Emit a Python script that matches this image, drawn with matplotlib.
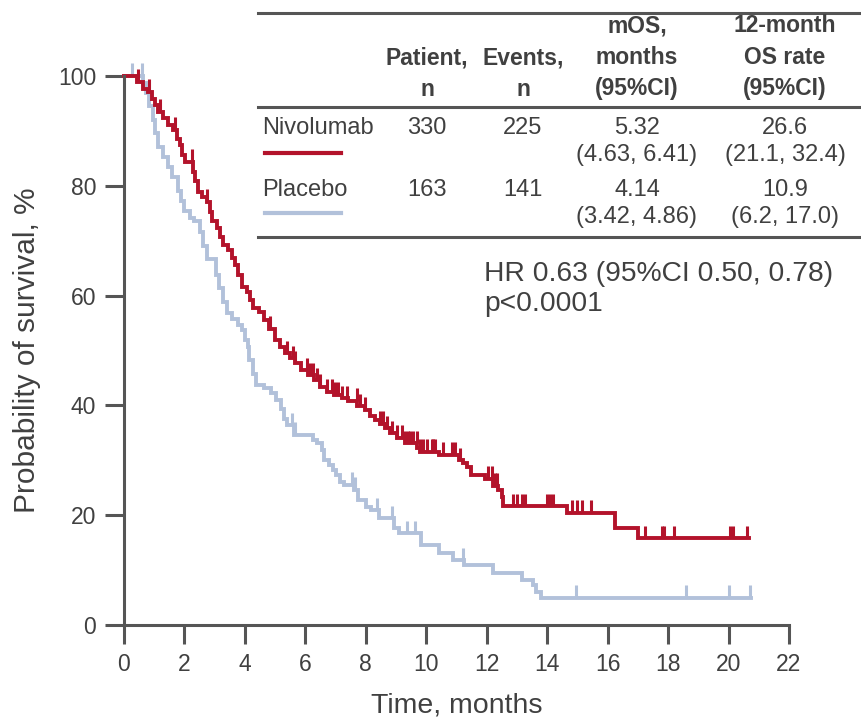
import numpy as np
import matplotlib
matplotlib.use('Agg')
import matplotlib.pyplot as plt
from matplotlib.lines import Line2D

plt.rcParams['font.family'] = ['Liberation Sans', 'DejaVu Sans']

W, H = 862, 725
RED = '#B3132B'
BLUE = '#B2C1DA'
GREY = '#555555'
TXT = '#404040'

# Kaplan-Meier steps: time (months) and survival (%) after each event
niv_t = [0, 0.42, 0.64, 0.78, 0.92, 1.03, 1.13, 1.30, 1.47, 1.63, 1.74, 1.85, 1.91, 2.02,
         2.29, 2.35, 2.46, 2.57, 2.73, 2.84, 2.90, 3.07, 3.18, 3.28, 3.45, 3.56, 3.67, 3.78,
         3.89, 4.06, 4.17, 4.28, 4.45, 4.62, 4.80, 5.00, 5.16, 5.32, 5.50, 5.65, 5.85, 6.10,
         6.30, 6.48, 6.70, 6.95, 7.20, 7.42, 7.72, 7.97, 8.14, 8.30, 8.47, 8.63, 8.80, 9.02,
         9.30, 9.70, 9.78, 10.42, 11.08, 11.20, 11.34, 11.48, 11.95, 12.22, 12.38, 12.49,
         12.55, 14.65, 16.25, 17.00]
niv_s = [100, 98.9, 97.7, 97.1, 95.9, 94.7, 93.5, 92.3, 91.1, 90.2, 88.6, 87.4, 85.6, 84.4,
         82.6, 80.8, 78.9, 78.0, 77.1, 75.3, 73.5, 72.3, 70.7, 69.2, 68.3, 66.8, 65.6, 63.8,
         61.6, 60.7, 59.2, 57.7, 57.1, 55.6, 54.0, 51.9, 50.6, 49.5, 48.6, 47.7, 46.4, 45.5,
         44.6, 43.4, 42.5, 41.9, 41.3, 40.8, 39.8, 39.2, 38.1, 37.3, 36.6, 35.8, 34.9, 34.1,
         33.1, 32.3, 31.6, 31.0, 30.0, 29.5, 28.8, 27.3, 26.6, 25.4, 24.5, 23.3,
         21.6, 20.4, 17.6, 15.8]
niv_end = 20.69
niv_cens = [0.45, 0.84, 1.19, 1.69, 2.24, 2.73, 4.83, 5.38, 5.59, 5.66, 6.04, 6.15, 6.25,
            6.38, 6.48, 6.72, 6.88, 6.98, 7.08, 7.21, 7.37, 7.71, 7.81, 7.97, 8.47, 8.57,
            8.70, 8.87, 9.02, 9.19, 9.30, 9.40, 9.46, 9.56, 9.68, 9.79, 9.90, 10.02, 10.18,
            10.23, 10.29, 10.56, 10.84, 10.95, 11.12, 12.04, 12.17, 12.27, 12.34, 12.87,
            13.00, 13.16, 13.26, 13.99, 14.09, 14.20, 14.82, 14.99, 15.15, 15.45, 17.23,
            17.80, 17.86, 18.19, 20.05, 20.15, 20.61]

pla_t = [0, 0.62, 0.72, 0.84, 0.95, 1.03, 1.12, 1.28, 1.45, 1.60, 1.77, 1.90, 2.00, 2.18,
         2.30, 2.50, 2.62, 2.76, 3.05, 3.15, 3.26, 3.42, 3.58, 3.76, 3.92, 4.00, 4.10, 4.14,
         4.26, 4.37, 4.62, 4.85, 5.02, 5.18, 5.30, 5.38, 5.62, 6.25, 6.40, 6.55, 6.62, 6.78,
         6.90, 7.02, 7.13, 7.28, 7.62, 7.74, 8.02, 8.18, 8.45, 8.92, 9.10, 9.84, 10.42,
         10.88, 11.25, 12.22, 13.18, 13.52, 13.64, 13.78]
pla_s = [100, 98.8, 96.9, 94.5, 92.0, 89.6, 87.1, 85.3, 83.4, 81.6, 79.1, 77.3, 75.5, 74.2,
         73.6, 71.5, 69.0, 66.6, 63.8, 61.3, 58.9, 56.8, 55.8, 54.6, 53.7, 51.9, 50.6, 48.3,
         45.8, 43.7, 43.1, 42.3, 41.0, 39.3, 37.6, 36.4, 34.6, 33.7, 33.1, 31.9, 30.1, 29.1,
         28.2, 27.3, 26.1, 25.5, 24.6, 22.8, 21.5, 20.9, 19.4, 17.6, 16.7, 14.6, 13.1,
         11.8, 10.9, 9.4, 8.2, 7.3, 6.1, 4.9]
pla_end = 20.74
pla_cens = [0.25, 0.58, 5.55, 5.66, 7.53, 7.64, 8.36, 8.86, 9.35, 9.63, 11.22, 14.95,
            18.6, 20.0, 20.72]

# table contents
col_heads = ['Patient,\nn', 'Events,\nn', 'mOS,\nmonths\n(95%CI)', '12-month\nOS rate\n(95%CI)']
arms = ['Nivolumab', 'Placebo']
patients = ['330', '163']
events = ['225', '141']
mos = ['5.32', '4.14']
mos_ci = ['(4.63, 6.41)', '(3.42, 4.86)']
os12 = ['26.6', '10.9']
os12_ci = ['(21.1, 32.4)', '(6.2, 17.0)']
hr_text = 'HR 0.63 (95%CI 0.50, 0.78)\np<0.0001'


def fx(px):
    return px / W


def fy(py):
    return 1 - py / H


fig = plt.figure(figsize=(W / 100, H / 100), dpi=100)
ax = fig.add_axes([fx(124), fy(625), fx(789) - fx(124), fy(76) - fy(625)])


def draw_km(t, s, end, cens, color):
    tt = list(t) + [end]
    ss = list(s) + [s[-1]]
    ax.step(tt, ss, where='post', color=color, lw=2.8, clip_on=False, solid_joinstyle='miter')
    idx = np.searchsorted(t, cens, side='right') - 1
    lev = np.array(s)[idx]
    ax.vlines(cens, lev, lev + 2.3, color=color, lw=2.2, clip_on=False)


draw_km(pla_t, pla_s, pla_end, pla_cens, BLUE)
draw_km(niv_t, niv_s, niv_end, niv_cens, RED)

ax.set_xlim(0, 22)
ax.set_ylim(0, 100)
ax.set_xticks(range(0, 23, 2))
ax.set_yticks(range(0, 101, 20))
for sp in ['top', 'right']:
    ax.spines[sp].set_visible(False)
for sp in ['left', 'bottom']:
    ax.spines[sp].set_color(GREY)
    ax.spines[sp].set_linewidth(2.2)
ax.tick_params(direction='out', length=14, width=2.2, color=GREY, labelcolor=TXT,
               labelsize=16.5, pad=6)
ax.set_xlabel('Time, months', fontsize=20.5, color=TXT, labelpad=12)
ax.set_ylabel('Probability of survival, %', fontsize=21.5, color=TXT, labelpad=12)

# table rules
for y in [13, 107, 237]:
    fig.add_artist(Line2D([fx(258), fx(862)], [fy(y), fy(y)], color=GREY, lw=2.2))

col_x = [427, 523, 637, 785]
line_y = [26, 58, 89]
for cx, head in zip(col_x, col_heads):
    lines = head.split('\n')
    for k, ln in enumerate(lines):
        yy = line_y[3 - len(lines) + k]
        fig.text(fx(cx), fy(yy), ln, ha='center', va='center', fontsize=16.5,
                 fontweight='bold', color=TXT)

row_y = [128, 190]
ci_y = [155, 217]
leg_y = [153, 213]
colors = [RED, BLUE]
for i in range(2):
    fig.text(fx(262), fy(row_y[i]), arms[i], ha='left', va='center', fontsize=17, color=TXT)
    fig.add_artist(Line2D([fx(265), fx(341)], [fy(leg_y[i]), fy(leg_y[i])],
                          color=colors[i], lw=3))
    for cx, val in zip(col_x, [patients[i], events[i], mos[i], os12[i]]):
        fig.text(fx(cx), fy(row_y[i]), val, ha='center', va='center', fontsize=17, color=TXT)
    fig.text(fx(637), fy(ci_y[i]), mos_ci[i], ha='center', va='center', fontsize=17, color=TXT)
    fig.text(fx(785), fy(ci_y[i]), os12_ci[i], ha='center', va='center', fontsize=17, color=TXT)

fig.text(fx(484), fy(289), hr_text, ha='left', va='center', fontsize=20.3, color=TXT,
         linespacing=1.2)

fig.savefig('out.png', dpi=100)
